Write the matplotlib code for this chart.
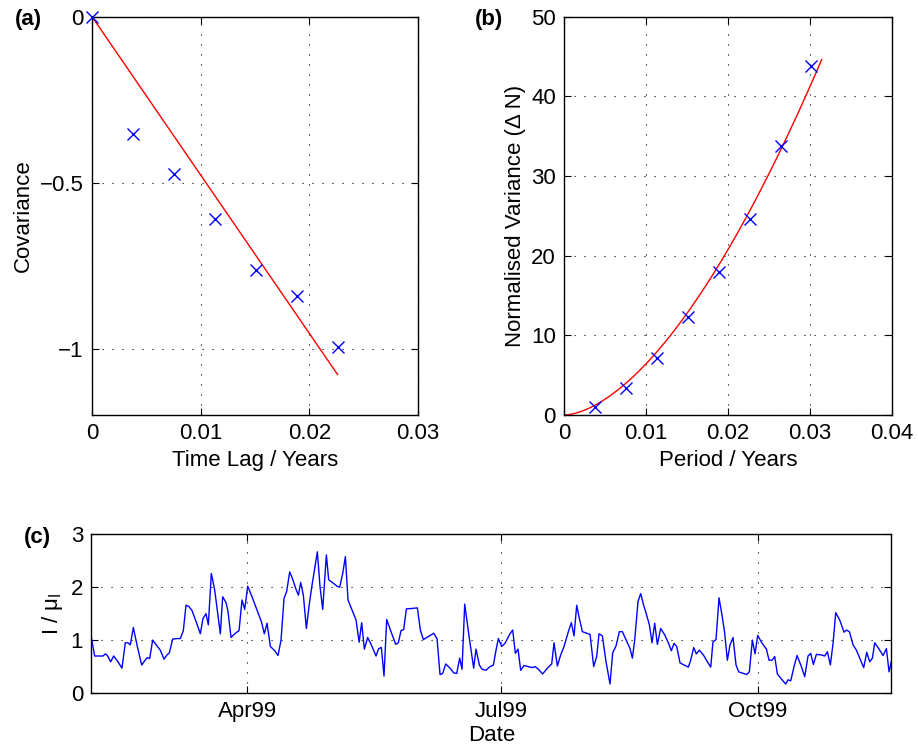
import numpy as np
import matplotlib
matplotlib.use("Agg")
import matplotlib.pyplot as plt
import matplotlib.dates as mdates

plt.rcParams['font.family'] = ['Liberation Sans', 'DejaVu Sans']
plt.rcParams['font.size'] = 16
plt.rcParams['mathtext.fontset'] = 'custom'
plt.rcParams['mathtext.rm'] = 'Liberation Sans'
plt.rcParams['mathtext.it'] = 'Liberation Sans'

# (a) covariance vs time lag
lag_a = [0, 0.00379, 0.00755, 0.01131, 0.01507, 0.01883, 0.0226]
cov_a = [0, -0.354, -0.475, -0.609, -0.762, -0.841, -0.995]

# (b) normalised variance vs period
period_b = [0.00375, 0.00754, 0.01132, 0.01507, 0.01886, 0.02265, 0.02644, 0.03014]
var_b = [1.05, 3.43, 7.11, 12.34, 17.99, 24.64, 33.8, 43.85]
fit_b_coef = 15430.0    # power-law fit  y = c * x^p
fit_b_exp = 1.69
fit_b_end = 0.03145

# (c) normalised intensity, days since 1 Jan 1999
day_c = [34.06, 35.25, 38.24, 39.08, 39.79, 40.99, 42.07, 43.62, 45.05, 46.25,
         47.21, 48.04, 49.12, 50.55, 52.11, 53.19, 54.14, 54.98, 56.05, 57.37,
         58.80, 60.12, 61.20, 62.03, 63.23, 64.90, 65.98, 67.05, 68.01, 68.97,
         70.16, 71.84, 73.15, 74.11, 75.18, 76.02, 77.10, 78.29, 80.33, 81.16,
         82.36, 83.08, 84.16, 85.71, 87.03, 88.10, 89.06, 90.14, 91.69, 93.48,
         95.04, 96.11, 97.07, 98.27, 99.82, 101.02, 102.09, 103.17, 104.12, 105.20,
         106.28, 107.47, 108.31, 109.15, 110.10, 111.18, 112.25, 113.21, 114.29, 115.12,
         116.08, 117.04, 118.35, 119.19, 120.98, 122.18, 123.13, 124.21, 125.17, 126.12,
         127.56, 129.00, 130.10, 131.02, 131.98, 133.17, 134.73, 136.16, 137.12, 138.08,
         139.03, 139.99, 141.54, 143.22, 144.17, 145.13, 146.09, 147.04, 149.32, 150.99,
         152.07, 153.14, 155.29, 156.85, 158.04, 159.12, 160.08, 161.15, 162.71, 164.02,
         165.10, 166.17, 167.01, 167.97, 169.64, 171.19, 172.03, 173.23, 174.18, 175.62,
         176.81, 178.25, 179.20, 180.04, 181.23, 182.43, 184.22, 185.18, 186.14, 187.09,
         188.05, 189.24, 190.80, 192.23, 193.19, 194.39, 195.94, 197.61, 199.17, 200.01,
         201.20, 202.40, 203.59, 205.15, 206.22, 207.18, 208.14, 209.09, 210.17, 211.72,
         212.92, 214.23, 215.31, 216.15, 217.34, 218.66, 220.09, 221.05, 222.24, 223.44,
         224.52, 226.31, 227.26, 228.10, 228.94, 230.13, 231.09, 232.05, 233.24, 234.20,
         235.15, 236.11, 237.07, 238.26, 239.70, 241.01, 242.09, 243.04, 244.00, 245.20,
         246.63, 248.19, 249.02, 250.10, 251.05, 252.13, 253.57, 255.00, 256.20, 257.03,
         258.11, 259.18, 260.26, 261.22, 262.17, 263.13, 264.21, 265.28, 266.24, 267.91,
         269.11, 270.06, 271.14, 272.10, 273.05, 274.40, 276.17, 277.13, 278.20, 279.16,
         280.12, 281.31, 283.10, 283.94, 284.90, 286.09, 287.17, 288.72, 289.92, 291.11,
         292.07, 293.03, 294.10, 295.90, 297.09, 298.05, 299.12, 300.08, 301.04, 302.47,
         304.03, 304.86, 305.94, 307.26, 308.45, 309.65, 311.08, 312.16, 313.23, 314.19,
         315.03, 316.22, 318.02, 319.21, 320.17, 321.00]
int_c = [1.05, 0.70, 0.70, 0.74, 0.71, 0.59, 0.70, 0.59, 0.47, 0.95,
         0.95, 0.91, 1.24, 0.88, 0.53, 0.61, 0.67, 0.65, 1.00, 0.91,
         0.81, 0.64, 0.72, 0.76, 1.02, 1.03, 1.03, 1.18, 1.66, 1.64,
         1.56, 1.32, 1.12, 1.41, 1.50, 1.29, 2.26, 1.95, 1.12, 1.82,
         1.71, 1.54, 1.05, 1.13, 1.18, 1.76, 1.58, 2.02, 1.82, 1.57,
         1.35, 1.12, 1.32, 0.88, 0.80, 0.71, 1.00, 1.79, 1.92, 2.29,
         2.15, 1.96, 1.85, 2.09, 1.85, 1.22, 1.69, 2.04, 2.39, 2.67,
         2.01, 1.58, 2.61, 2.14, 2.07, 2.02, 2.00, 2.26, 2.58, 1.76,
         1.57, 1.38, 0.96, 1.33, 0.83, 1.05, 0.88, 0.70, 0.84, 0.86,
         0.32, 1.39, 1.16, 0.92, 0.95, 1.18, 1.20, 1.59, 1.60, 1.61,
         1.19, 1.01, 1.08, 1.13, 1.03, 0.35, 0.37, 0.55, 0.47, 0.38,
         0.37, 0.66, 0.45, 1.68, 1.03, 0.47, 0.83, 0.53, 0.45, 0.43,
         0.49, 0.53, 0.81, 1.03, 0.88, 0.94, 1.12, 1.19, 0.75, 0.83,
         0.43, 0.52, 0.50, 0.48, 0.50, 0.45, 0.36, 0.47, 0.55, 0.95,
         0.51, 0.72, 0.88, 1.16, 1.33, 1.08, 1.66, 1.41, 1.16, 1.13,
         1.11, 0.50, 0.69, 1.12, 1.08, 0.59, 0.17, 0.76, 0.89, 1.16,
         1.16, 0.95, 0.84, 0.66, 1.00, 1.73, 1.88, 1.68, 1.47, 1.29,
         0.95, 1.32, 0.92, 1.22, 1.10, 0.95, 0.80, 0.94, 0.88, 0.57,
         0.53, 0.49, 0.62, 0.86, 0.74, 0.81, 0.72, 0.59, 0.49, 0.97,
         1.01, 1.80, 1.47, 1.13, 0.62, 0.91, 1.05, 0.53, 0.40, 0.37,
         0.35, 0.40, 1.00, 0.74, 1.09, 0.96, 0.83, 0.62, 0.62, 0.69,
         0.36, 0.28, 0.17, 0.25, 0.23, 0.50, 0.71, 0.50, 0.31, 0.70,
         0.75, 0.54, 0.73, 0.72, 0.70, 0.78, 0.53, 0.94, 1.52, 1.38,
         1.15, 1.19, 1.16, 0.91, 0.81, 0.66, 0.48, 0.77, 0.59, 0.66,
         0.95, 0.86, 0.71, 0.84, 0.40, 0.60]


def matlab_style(ax):
    ax.tick_params(direction='in', top=True, right=True, length=5, width=0.8, pad=6)
    ax.grid(True, color='black', linestyle=(0, (1, 8)), linewidth=0.8)
    for s in ax.spines.values():
        s.set_linewidth(1.0)


fig = plt.figure(figsize=(9.18, 7.56), dpi=100)

# (a)
ax1 = fig.add_axes([0.1002, 0.4511, 0.3551, 0.5269])
lag = np.array(lag_a)
cov = np.array(cov_a)
slope = np.sum(lag * cov) / np.sum(lag * lag)
ax1.plot(lag, slope * lag, color='red', linewidth=1)
ax1.plot(lag, cov, 'x', color='blue', markersize=8, markeredgewidth=1, clip_on=False, zorder=5)
ax1.set_xlim(0, 0.03)
ax1.set_ylim(-1.2, 0)
ax1.set_xticks([0, 0.01, 0.02, 0.03])
ax1.set_xticklabels(['0', '0.01', '0.02', '0.03'])
ax1.set_yticks([-1, -0.5, 0])
ax1.set_yticklabels(['\u22121', '\u22120.5', '0'])
ax1.set_xlabel('Time Lag / Years')
ax1.set_ylabel('Covariance')
matlab_style(ax1)
fig.text(28 / 918, 1 - 19 / 756, '(a)', fontweight='bold', ha='center', va='center')

# (b)
ax2 = fig.add_axes([0.6147, 0.4511, 0.3566, 0.5269])
xf = np.linspace(0, fit_b_end, 200)
ax2.plot(xf, fit_b_coef * xf ** fit_b_exp, color='red', linewidth=1)
ax2.plot(period_b, var_b, 'x', color='blue', markersize=8, markeredgewidth=1, clip_on=False, zorder=5)
ax2.set_xlim(0, 0.04)
ax2.set_ylim(0, 50)
ax2.set_xticks([0, 0.01, 0.02, 0.03, 0.04])
ax2.set_xticklabels(['0', '0.01', '0.02', '0.03', '0.04'])
ax2.set_yticks([0, 10, 20, 30, 40, 50])
ax2.set_xlabel('Period / Years')
ax2.set_ylabel('Normalised Variance (\u0394 N)')
matlab_style(ax2)
fig.text(489 / 918, 1 - 19 / 756, '(b)', fontweight='bold', ha='center', va='center')

# (c)
ax3 = fig.add_axes([0.0995, 0.0833, 0.8715, 0.2099])
t0 = mdates.date2num(np.datetime64('1999-01-01'))
tc = t0 + np.array(day_c)
ax3.plot(tc, int_c, color='blue', linewidth=1)
ax3.set_xlim(tc[0], tc[-1])
ax3.set_ylim(0, 3)
ax3.set_yticks([0, 1, 2, 3])
ax3.xaxis.set_major_locator(mdates.MonthLocator(bymonth=[4, 7, 10]))
ax3.xaxis.set_major_formatter(mdates.DateFormatter('%b%y'))
ax3.set_xlabel('Date', labelpad=2)
ax3.set_ylabel(r'I / $\mu_\mathrm{I}$')
matlab_style(ax3)
fig.text(37 / 918, 1 - 537 / 756, '(c)', fontweight='bold', ha='center', va='center')

fig.savefig('out.png', dpi=100)
